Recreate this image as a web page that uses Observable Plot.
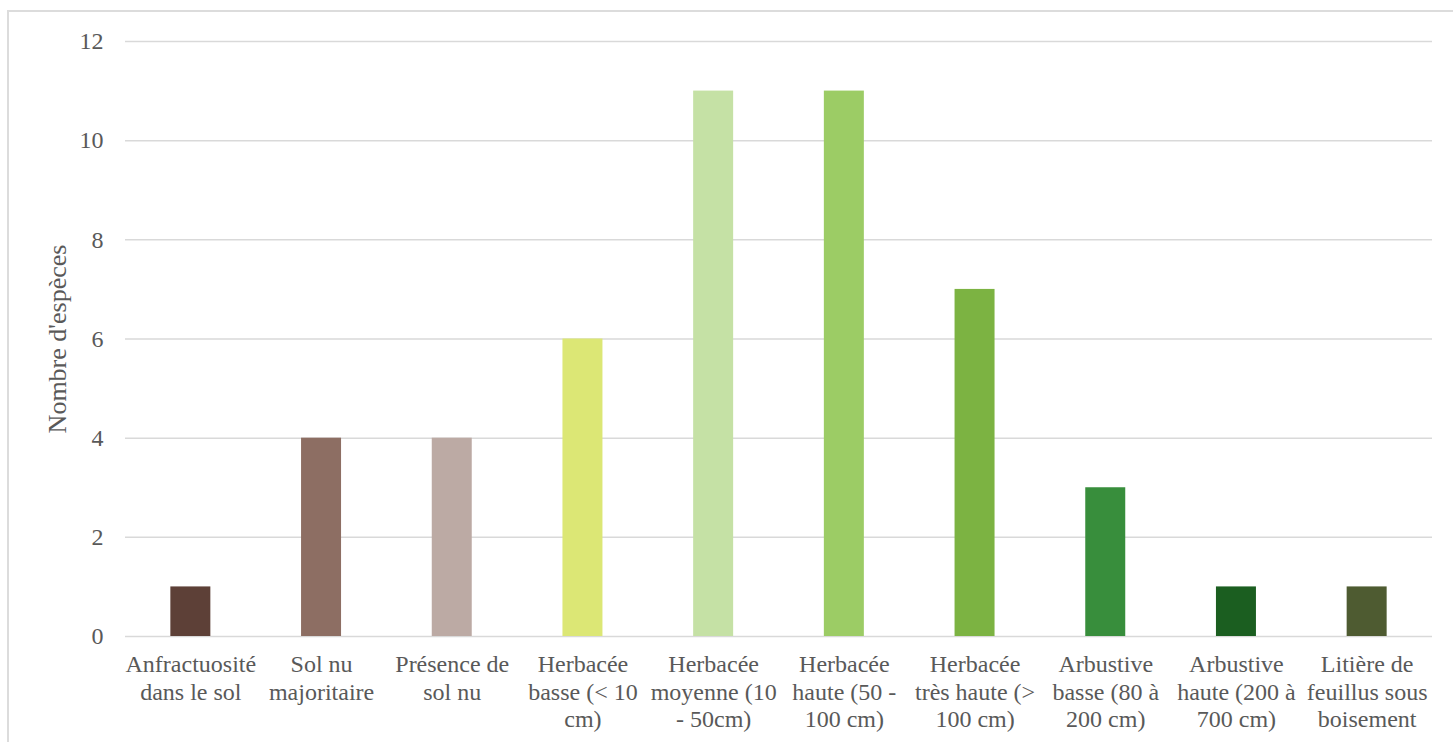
<!DOCTYPE html>
<html>
<head>
<meta charset="utf-8">
<script src="https://cdn.jsdelivr.net/npm/d3@7"></script>
<script src="https://cdn.jsdelivr.net/npm/@observablehq/plot@0.6"></script>
<style>
  body { margin: 0; background: #fff; }
  #frame { position: absolute; left: 7px; top: 10px; width: 1470px; height: 760px; border: 2px solid #dcdcdc; box-sizing: border-box; }
  #chart { position: absolute; left: 0; top: 0; }
</style>
</head>
<body>
<div id="frame"></div>
<div id="chart"></div>
<script>
// Habitat categories (x axis)
const categories = [
  "Anfractuosité dans le sol",
  "Sol nu majoritaire",
  "Présence de sol nu",
  "Herbacée basse (< 10 cm)",
  "Herbacée moyenne (10 - 50cm)",
  "Herbacée haute (50 - 100 cm)",
  "Herbacée très haute (> 100 cm)",
  "Arbustive basse (80 à 200 cm)",
  "Arbustive haute (200 à 700 cm)",
  "Litière de feuillus sous boisement"
];

// Tick labels, wrapped as displayed under each bar
const tickLabels = [
  "Anfractuosité\ndans le sol",
  "Sol nu\nmajoritaire",
  "Présence de\nsol nu",
  "Herbacée\nbasse (< 10\ncm)",
  "Herbacée\nmoyenne (10\n- 50cm)",
  "Herbacée\nhaute (50 -\n100 cm)",
  "Herbacée\ntrès haute (>\n100 cm)",
  "Arbustive\nbasse (80 à\n200 cm)",
  "Arbustive\nhaute (200 à\n700 cm)",
  "Litière de\nfeuillus sous\nboisement"
];

// Number of species per habitat
const species = [1, 4, 4, 6, 11, 11, 7, 3, 1, 1];

// Bar colours, from soil browns to woodland greens
const barColors = [
  "#5d4037", "#8d6e63", "#bcaaa4", "#dce775", "#c5e1a5",
  "#9ccc65", "#7cb342", "#388e3c", "#1b5e20", "#4e5b31"
];

const yTicks = [0, 2, 4, 6, 8, 10, 12];

const serif = "Liberation Serif";
const rows = categories.map((c, i) => ({ category: c, value: species[i] }));
const labelOf = new Map(categories.map((c, i) => [c, tickLabels[i]]));

const chart = Plot.plot({
  width: 1453,
  height: 742,
  marginLeft: 125,
  marginRight: 21,
  marginTop: 41,
  marginBottom: 106,
  style: {
    fontFamily: serif,
    fontSize: "24px",
    color: "#595959",
    background: "transparent",
    overflow: "visible"
  },
  x: { domain: categories, paddingInner: 0.694, paddingOuter: 0.347, round: false },
  y: { domain: [0, 12] },
  color: { domain: categories, range: barColors },
  marks: [
    Plot.gridY(yTicks, { stroke: "#d9d9d9", strokeOpacity: 1, strokeWidth: 1.5 }),
    Plot.barY(rows, { x: "category", y: "value", fill: "category" }),
    Plot.axisY(yTicks, {
      tickSize: 0,
      tickPadding: 22,
      label: null,
      fontSize: 24,
      fontFamily: serif,
      tickFormat: (d) => String(d)
    }),
    Plot.axisX({
      tickSize: 0,
      tickPadding: 16,
      label: null,
      fontSize: 24,
      lineHeight: 1.15,
      fontFamily: serif,
      tickFormat: (d) => labelOf.get(d)
    }),
    Plot.text(["Nombre d'espèces"], {
      frameAnchor: "left",
      textAnchor: "middle",
      dx: -68,
      rotate: -90,
      fontSize: 26,
      fontFamily: serif,
      fill: "#595959"
    })
  ]
});

document.getElementById("chart").append(chart);
</script>
</body>
</html>
